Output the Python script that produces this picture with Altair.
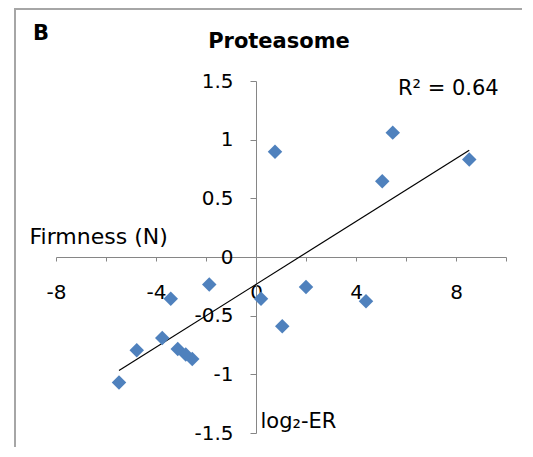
import altair as alt
import pandas as pd

# log2-ER values (x) and firmness (y)
log2_er = [-5.48, -4.77, -3.75, -3.13, -2.81, -2.55, -3.41, -1.87,
           0.20, 1.05, 2.00, 4.40, 0.76, 5.05, 5.47, 8.53]
firmness = [-1.07, -0.794, -0.69, -0.785, -0.83, -0.87, -0.355, -0.235,
            -0.355, -0.59, -0.255, -0.377, 0.898, 0.646, 1.06, 0.83]

x_ticks = [-8, -6, -4, -2, 0, 2, 4, 6, 8, 10]
y_ticks = [-1.5, -1, -0.5, 0, 0.5, 1, 1.5]

df = pd.DataFrame({"x": log2_er, "y": firmness})
one = pd.DataFrame({"k": [0]})

W, H = 450, 352
FONT = "DejaVu Sans"
AX = "#868686"

xscale = alt.Scale(domain=[-8, 10], nice=False, zero=False)
yscale = alt.Scale(domain=[-1.5, 1.5], nice=False, zero=False)

xaxis = alt.Axis(
    values=x_ticks, orient="bottom", offset=-176, grid=False,
    domainColor=AX, tickColor=AX, tickSize=4, labelPadding=21,
    labelFont=FONT, labelFontSize=20, labelColor="black", labelFlush=False,
    labelOverlap=False,
    labelExpr="datum.value % 4 == 0 ? toString(datum.value) : ''",
    title="log₂-ER", titleFont=FONT, titleFontSize=21, titleFontWeight="normal",
    titleColor="black", titleAngle=0, titleAlign="left", titleBaseline="alphabetic",
    titleX=204, titleY=170,
)
yaxis = alt.Axis(
    values=y_ticks, orient="left", offset=-200, grid=False,
    domainColor=AX, tickColor=AX, tickSize=6, labelPadding=17,
    labelFont=FONT, labelFontSize=20, labelColor="black", labelFlush=False,
    labelOverlap=False, labelExpr="toString(datum.value)",
    title="Firmness (N)", titleFont=FONT, titleFontSize=22, titleFontWeight="normal",
    titleColor="black", titleAngle=0, titleAlign="left", titleBaseline="alphabetic",
    titleX=-227, titleY=162,
)

base = alt.Chart(df)

points = base.mark_point(shape="diamond", filled=True, size=210,
                         color="#4F81BD", opacity=1).encode(
    x=alt.X("x:Q", scale=xscale, axis=xaxis),
    y=alt.Y("y:Q", scale=yscale, axis=yaxis),
)

trend = base.transform_regression("x", "y").mark_line(
    color="black", strokeWidth=1.2).encode(
    x=alt.X("x:Q", scale=xscale),
    y=alt.Y("y:Q", scale=yscale),
)

border_left = alt.Chart(one).mark_rule(color="#A6A6A6", strokeWidth=2).encode(
    x=alt.value(-41), y=alt.value(-72), y2=alt.value(366))
border_top = alt.Chart(one).mark_rule(color="#A6A6A6", strokeWidth=2).encode(
    x=alt.value(-42), x2=alt.value(467), y=alt.value(-72))

label_b = alt.Chart(one).mark_text(
    text="B", font=FONT, fontSize=21, fontWeight="bold", align="left",
    baseline="alphabetic", color="black").encode(
    x=alt.value(-23), y=alt.value(-41))
title = alt.Chart(one).mark_text(
    text="Proteasome", font=FONT, fontSize=21, fontWeight="bold", align="center",
    baseline="alphabetic", color="black").encode(
    x=alt.value(223), y=alt.value(-33))
r2 = alt.Chart(one).mark_text(
    text="R² = 0.64", font=FONT, fontSize=21, align="left",
    baseline="alphabetic", color="black").encode(
    x=alt.value(342), y=alt.value(14))

chart = alt.layer(
    border_left, border_top, trend, points, label_b, title, r2
).properties(
    width=W, height=H,
    autosize=alt.AutoSizeParams(type="none"),
    padding={"left": 48, "top": 73, "right": 16, "bottom": 14},
).configure(
    background="white",
    view=alt.ViewConfig(strokeWidth=0, stroke="transparent"),
)

chart.save("out.html", embed_options={"renderer": "svg", "actions": False})
